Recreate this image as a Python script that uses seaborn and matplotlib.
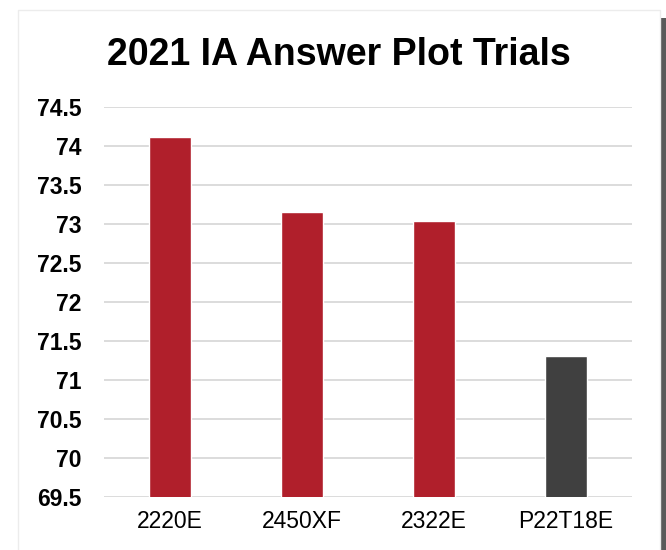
import numpy as np
import pandas as pd
import matplotlib.pyplot as plt
import matplotlib.patches as mpatches
import seaborn as sns

# values
hybrids = ["2220E", "2450XF", "2322E", "P22T18E"]
yields = [74.11, 73.16, 73.04, 71.31]
bar_colors = ["#B01F2B", "#B01F2B", "#B01F2B", "#404040"]
y_ticks = [69.5, 70, 70.5, 71, 71.5, 72, 72.5, 73, 73.5, 74, 74.5]
y_labels = ["69.5", "70", "70.5", "71", "71.5", "72", "72.5", "73", "73.5", "74", "74.5"]

sns.set_style("white")
plt.rcParams['font.family'] = ['Liberation Sans', 'DejaVu Sans']
plt.rcParams['text.color'] = 'black'
plt.rcParams['xtick.color'] = 'black'
plt.rcParams['ytick.color'] = 'black'

df = pd.DataFrame({"hybrid": hybrids, "yield": yields})

fig = plt.figure(figsize=(6.66, 5.5), dpi=100)

# chart frame with a drop shadow on the right
fig.patches.append(mpatches.Rectangle((660 / 666, -0.05), 6 / 666, 1 - 18 / 550 + 0.05,
                                      transform=fig.transFigure,
                                      facecolor="#5a5a5a", edgecolor="none", zorder=0))
fig.patches.append(mpatches.Rectangle((18 / 666, -0.05), 642 / 666, (540 / 550) + 0.05,
                                      transform=fig.transFigure,
                                      facecolor="white", edgecolor="#ececec",
                                      linewidth=1.0, zorder=1))

ax = fig.add_axes([104 / 666, 53 / 550, 528 / 666, 390 / 550])
ax.set_zorder(2)
ax.patch.set_alpha(0)

sns.barplot(data=df, x="hybrid", y="yield", hue="hybrid", palette=bar_colors,
            saturation=1, width=0.32, legend=False, ax=ax, zorder=3)

ax.set_ylim(69.5, 74.5)
ax.set_xlim(-0.5, 3.5)
ax.set_yticks(y_ticks)
ax.set_yticklabels(y_labels, fontsize=16.5, fontweight="bold")
ax.tick_params(axis="x", labelsize=16.5, length=0, pad=9)
ax.tick_params(axis="y", length=0, pad=16)
ax.yaxis.grid(True, color="#d9d9d9", linewidth=1.3, zorder=0)
ax.set_axisbelow(True)
for s in ax.spines.values():
    s.set_visible(False)
ax.set_xlabel("")
ax.set_ylabel("")

fig.text(339 / 666, 1 - 55 / 550, "2021 IA Answer Plot Trials", ha="center", va="center",
         fontsize=27, fontweight="bold")

fig.savefig("out.png", dpi=100)
